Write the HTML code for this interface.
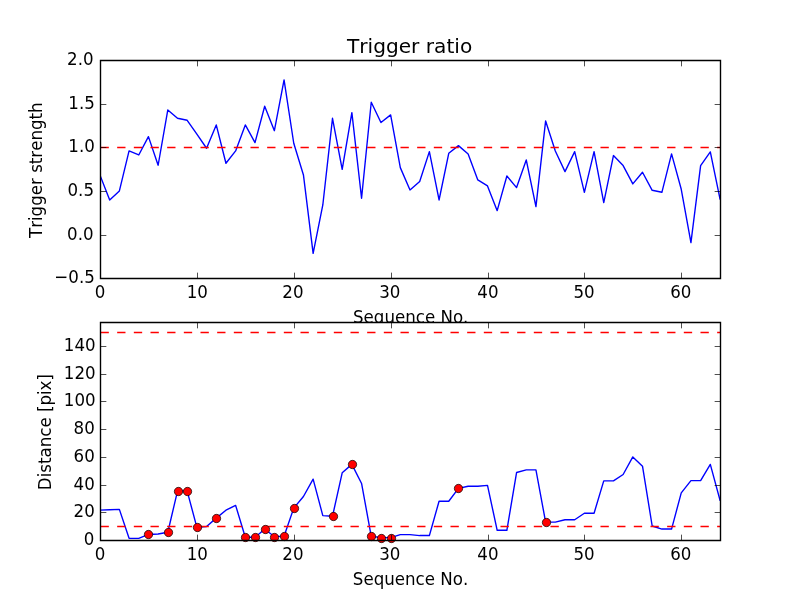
<!DOCTYPE html>
<html><head><meta charset="utf-8"><title>Trigger ratio</title>
<style>html,body{margin:0;padding:0;background:#fff;overflow:hidden}svg{will-change:transform}text{font-family:"DejaVu Sans","Liberation Sans",sans-serif;fill:#000;font-kerning:none}</style>
</head><body>
<svg width="800" height="600" viewBox="0 0 800 600" style="display:block">
<defs><clipPath id="c1"><rect x="100" y="60" width="620" height="218.182"/></clipPath>
<clipPath id="c2"><rect x="100" y="321.818" width="620" height="218.182"/></clipPath></defs>
<rect width="800" height="600" fill="#fff"/>
<rect x="100" y="60" width="620" height="218" fill="#fff"/>
<polyline clip-path="url(#c1)" points="100,175.2 109.688,199.985 119.375,190.909 129.062,150.938 138.75,154.953 148.438,136.625 158.125,165.251 167.812,109.92 177.5,118.298 187.188,120.305 196.875,134.182 206.562,148.233 216.25,124.931 225.938,163.244 235.625,150.938 245.312,124.931 255,142.647 264.688,106.255 274.375,130.691 284.062,79.898 293.75,143.258 303.438,174.938 313.125,253.309 322.812,204.96 332.5,118.298 342.188,169.265 351.875,112.625 361.562,198.24 371.25,102.24 380.938,122.575 390.625,114.895 400.312,167.607 410,189.949 419.688,181.571 429.375,151.636 439.062,199.985 448.75,153.295 458.438,145.615 468.125,153.905 477.812,179.913 487.5,185.935 497.188,210.633 506.875,175.985 516.562,187.593 526.25,159.927 535.938,206.618 545.625,120.916 555.312,150.938 565,171.622 574.688,151.636 584.375,192.305 594.062,151.636 603.75,202.604 613.438,155.564 623.125,165.6 632.812,183.927 642.5,172.233 652.188,190.298 661.875,192.305 671.562,153.905 681.25,189.251 690.938,242.575 700.625,165.6 710.312,151.898 720,198.938" fill="none" stroke="#0000ff" stroke-width="1.389" stroke-linejoin="round" stroke-linecap="square"/>
<path clip-path="url(#c1)" d="M100.5 147.5H720.5" stroke="#ff0000" stroke-width="1.389" stroke-dasharray="8.333 8.333" fill="none"/>
<path d="M100.5 278.5V60.5 M720.5 278.5V60.5 M100.5 278.5H720.5 M100.5 60.5H720.5" stroke="#000" stroke-width="1.389" stroke-linecap="square" fill="none"/>
<path d="M100.5 278.5V272.65M100.5 60.5V66.35M197.5 278.5V272.65M197.5 60.5V66.35M294.5 278.5V272.65M294.5 60.5V66.35M391.5 278.5V272.65M391.5 60.5V66.35M488.5 278.5V272.65M488.5 60.5V66.35M584.5 278.5V272.65M584.5 60.5V66.35M681.5 278.5V272.65M681.5 60.5V66.35M100.5 278.5H106.35M720.5 278.5H714.65M100.5 235.5H106.35M720.5 235.5H714.65M100.5 191.5H106.35M720.5 191.5H714.65M100.5 147.5H106.35M720.5 147.5H714.65M100.5 104.5H106.35M720.5 104.5H714.65M100.5 60.5H106.35M720.5 60.5H714.65" stroke="#000" stroke-width="0.694" fill="none"/>
<text id="a1x0" transform="translate(100 297.5) scale(1 1.08)" font-size="16.667" text-anchor="middle">0</text>
<text id="a1x10" transform="translate(197.275 297.5) scale(1 1.08)" font-size="16.667" text-anchor="middle">10</text>
<text id="a1x20" transform="translate(292.95 297.5) scale(1 1.08)" font-size="16.667" text-anchor="middle">20</text>
<text id="a1x30" transform="translate(389.825 297.5) scale(1 1.08)" font-size="16.667" text-anchor="middle">30</text>
<text id="a1x40" transform="translate(487.9 297.5) scale(1 1.08)" font-size="16.667" text-anchor="middle">40</text>
<text id="a1x50" transform="translate(583.975 297.5) scale(1 1.08)" font-size="16.667" text-anchor="middle">50</text>
<text id="a1x60" transform="translate(680.85 297.5) scale(1 1.08)" font-size="16.667" text-anchor="middle">60</text>
<text id="a1y−0.5" transform="translate(94.8 283.382) scale(1 1.08)" font-size="16.667" text-anchor="end">−0.5</text>
<text id="a1y0.0" transform="translate(93.6 239.745) scale(1 1.08)" font-size="16.667" text-anchor="end">0.0</text>
<text id="a1y0.5" transform="translate(94 196.109) scale(1 1.08)" font-size="16.667" text-anchor="end">0.5</text>
<text id="a1y1.0" transform="translate(94.8 152.473) scale(1 1.08)" font-size="16.667" text-anchor="end">1.0</text>
<text id="a1y1.5" transform="translate(94.8 108.836) scale(1 1.08)" font-size="16.667" text-anchor="end">1.5</text>
<text id="a1y2.0" transform="translate(93.6 65.2) scale(1 1.08)" font-size="16.667" text-anchor="end">2.0</text>
<text id="a1xl" transform="translate(410.7 323) scale(1 1.08)" font-size="16.667" text-anchor="middle">Sequence No.</text>
<text id="a1yl" transform="translate(41.9 170.2) rotate(-90) scale(1 1.08)" font-size="16.667" text-anchor="middle">Trigger strength</text>
<text id="title" transform="translate(409.6 53)" font-size="20" text-anchor="middle" textLength="125.2" lengthAdjust="spacingAndGlyphs">Trigger ratio</text>
<rect x="100" y="322" width="620" height="218" fill="#fff"/>
<polyline clip-path="url(#c2)" points="100,510.078 109.688,509.801 119.375,509.385 129.062,538.338 138.75,538.338 148.438,534.459 158.125,534.043 167.812,532.242 177.5,491.1 187.188,491.1 196.875,527.394 206.562,526.563 216.25,518.113 225.938,510.216 235.625,505.368 245.312,537.229 255,537.229 264.688,529.195 274.375,536.537 284.062,536.26 293.75,508.139 303.438,496.502 313.125,479.186 322.812,515.619 332.5,516.312 342.188,472.814 351.875,464.364 361.562,483.481 371.25,536.26 380.938,537.645 390.625,537.645 400.312,534.597 410,534.597 419.688,535.567 429.375,535.567 439.062,501.212 448.75,501.212 458.438,488.329 468.125,486.251 477.812,486.251 487.5,485.42 497.188,530.303 506.875,530.303 516.562,472.537 526.25,469.905 535.938,469.905 545.625,522.13 555.312,522.13 565,519.775 574.688,519.775 584.375,513.264 594.062,513.264 603.75,480.848 613.438,480.848 623.125,474.476 632.812,456.883 642.5,466.165 652.188,526.009 661.875,529.056 671.562,529.056 681.25,492.9 690.938,480.571 700.625,480.571 710.312,464.364 720,500.242" fill="none" stroke="#0000ff" stroke-width="1.389" stroke-linejoin="round" stroke-linecap="square"/>
<path clip-path="url(#c2)" d="M100.5 526.5H720.5" stroke="#ff0000" stroke-width="1.389" stroke-dasharray="8.333 8.333" fill="none"/>
<path clip-path="url(#c2)" d="M100.5 332.5H720.5" stroke="#ff0000" stroke-width="1.389" stroke-dasharray="8.333 8.333" fill="none"/>
<circle cx="148.5" cy="534.5" r="4.167" fill="#ff0000" stroke="#000" stroke-width="0.694"/>
<circle cx="168.5" cy="532.5" r="4.167" fill="#ff0000" stroke="#000" stroke-width="0.694"/>
<circle cx="178.5" cy="491.5" r="4.167" fill="#ff0000" stroke="#000" stroke-width="0.694"/>
<circle cx="187.5" cy="491.5" r="4.167" fill="#ff0000" stroke="#000" stroke-width="0.694"/>
<circle cx="197.5" cy="527.5" r="4.167" fill="#ff0000" stroke="#000" stroke-width="0.694"/>
<circle cx="216.5" cy="518.5" r="4.167" fill="#ff0000" stroke="#000" stroke-width="0.694"/>
<circle cx="245.5" cy="537.5" r="4.167" fill="#ff0000" stroke="#000" stroke-width="0.694"/>
<circle cx="255.5" cy="537.5" r="4.167" fill="#ff0000" stroke="#000" stroke-width="0.694"/>
<circle cx="265.5" cy="529.5" r="4.167" fill="#ff0000" stroke="#000" stroke-width="0.694"/>
<circle cx="274.5" cy="537.5" r="4.167" fill="#ff0000" stroke="#000" stroke-width="0.694"/>
<circle cx="284.5" cy="536.5" r="4.167" fill="#ff0000" stroke="#000" stroke-width="0.694"/>
<circle cx="294.5" cy="508.5" r="4.167" fill="#ff0000" stroke="#000" stroke-width="0.694"/>
<circle cx="333.5" cy="516.5" r="4.167" fill="#ff0000" stroke="#000" stroke-width="0.694"/>
<circle cx="352.5" cy="464.5" r="4.167" fill="#ff0000" stroke="#000" stroke-width="0.694"/>
<circle cx="371.5" cy="536.5" r="4.167" fill="#ff0000" stroke="#000" stroke-width="0.694"/>
<circle cx="381.5" cy="538.5" r="4.167" fill="#ff0000" stroke="#000" stroke-width="0.694"/>
<circle cx="391.5" cy="538.5" r="4.167" fill="#ff0000" stroke="#000" stroke-width="0.694"/>
<circle cx="458.5" cy="488.5" r="4.167" fill="#ff0000" stroke="#000" stroke-width="0.694"/>
<circle cx="546.5" cy="522.5" r="4.167" fill="#ff0000" stroke="#000" stroke-width="0.694"/>
<path d="M100.5 540.5V322.5 M720.5 540.5V322.5 M100.5 540.5H720.5 M100.5 322.5H720.5" stroke="#000" stroke-width="1.389" stroke-linecap="square" fill="none"/>
<path d="M100.5 540.5V534.65M100.5 322.5V328.35M197.5 540.5V534.65M197.5 322.5V328.35M294.5 540.5V534.65M294.5 322.5V328.35M391.5 540.5V534.65M391.5 322.5V328.35M488.5 540.5V534.65M488.5 322.5V328.35M584.5 540.5V534.65M584.5 322.5V328.35M681.5 540.5V534.65M681.5 322.5V328.35M100.5 540.5H106.35M720.5 540.5H714.65M100.5 512.5H106.35M720.5 512.5H714.65M100.5 485.5H106.35M720.5 485.5H714.65M100.5 457.5H106.35M720.5 457.5H714.65M100.5 429.5H106.35M720.5 429.5H714.65M100.5 401.5H106.35M720.5 401.5H714.65M100.5 374.5H106.35M720.5 374.5H714.65M100.5 346.5H106.35M720.5 346.5H714.65" stroke="#000" stroke-width="0.694" fill="none"/>
<text id="a2x0" transform="translate(100 559.5) scale(1 1.08)" font-size="16.667" text-anchor="middle">0</text>
<text id="a2x10" transform="translate(197.275 559.5) scale(1 1.08)" font-size="16.667" text-anchor="middle">10</text>
<text id="a2x20" transform="translate(292.95 559.5) scale(1 1.08)" font-size="16.667" text-anchor="middle">20</text>
<text id="a2x30" transform="translate(389.825 559.5) scale(1 1.08)" font-size="16.667" text-anchor="middle">30</text>
<text id="a2x40" transform="translate(487.9 559.5) scale(1 1.08)" font-size="16.667" text-anchor="middle">40</text>
<text id="a2x50" transform="translate(583.975 559.5) scale(1 1.08)" font-size="16.667" text-anchor="middle">50</text>
<text id="a2x60" transform="translate(680.85 559.5) scale(1 1.08)" font-size="16.667" text-anchor="middle">60</text>
<text id="a2y0" transform="translate(94.4 545.2) scale(1 1.08)" font-size="16.667" text-anchor="end">0</text>
<text id="a2y20" transform="translate(94.8 517.494) scale(1 1.08)" font-size="16.667" text-anchor="end">20</text>
<text id="a2y40" transform="translate(94.8 489.789) scale(1 1.08)" font-size="16.667" text-anchor="end">40</text>
<text id="a2y60" transform="translate(94.8 462.083) scale(1 1.08)" font-size="16.667" text-anchor="end">60</text>
<text id="a2y80" transform="translate(94.8 434.377) scale(1 1.08)" font-size="16.667" text-anchor="end">80</text>
<text id="a2y100" transform="translate(95.6 405.872) scale(1 1.08)" font-size="16.667" text-anchor="end">100</text>
<text id="a2y120" transform="translate(95.6 378.966) scale(1 1.08)" font-size="16.667" text-anchor="end">120</text>
<text id="a2y140" transform="translate(95.6 351.261) scale(1 1.08)" font-size="16.667" text-anchor="end">140</text>
<text id="a2xl" transform="translate(410.5 584.9) scale(1 1.08)" font-size="16.667" text-anchor="middle">Sequence No.</text>
<text id="a2yl" transform="translate(51.2 432.1) rotate(-90) scale(1 1.08)" font-size="16.667" text-anchor="middle">Distance [pix]</text>
</svg>
</body></html>
